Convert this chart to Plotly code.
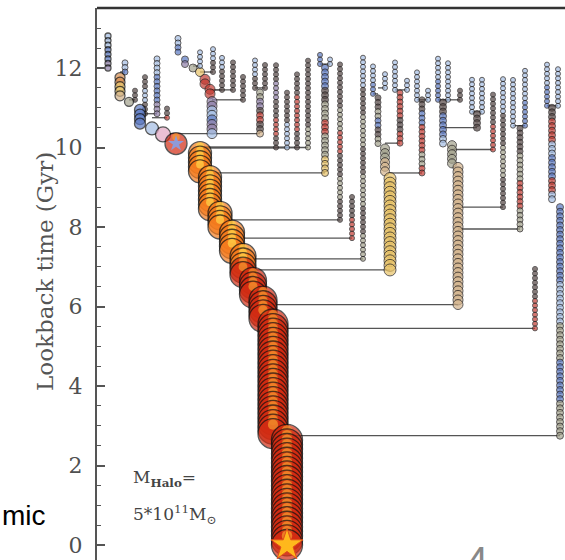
import numpy as np
import plotly.graph_objects as go

# ---------------------------------------------------------------------------
# Merger tree of a 5e11 Msun halo.  Horizontal position is only the tree
# layout column; the vertical axis is lookback time in Gyr.  Each bead is one
# simulation output, its size tracks mass and its colour tracks the galaxy.
# ---------------------------------------------------------------------------
SNAP_DT = 0.115          # spacing between simulation outputs (Gyr)

PALETTE = {
    "b": "#a3bde3", "B": "#5a78c2", "p": "#8e7ea8", "P": "#e3a6c2",
    "k": "#544644", "r": "#c23a31", "y": "#e8c266", "n": "#d2b28a",
    "g": "#a3a28c", "o": "#d88e4e", "O": "#f57b1d", "R": "#d22b12",
}
GLINT = {"O": "#ffd54a", "R": "#f59a2e"}

# Main progenitor, one row per stretch of constant layout column
MAIN_X    = [108, 120, 129, 140, 152, 163, 176, 200, 210, 220, 232, 243, 253, 263, 273, 287]
MAIN_TOP  = [12.85, 11.85, 11.15, 11.0, 10.48, 10.33, 10.1, 9.95, 9.3, 8.35, 7.9, 7.3, 6.7, 6.2, 5.6, 2.7]
MAIN_END  = [12.0, 11.3, 11.15, 10.6, 10.48, 10.33, 10.1, 9.4, 8.45, 8.0, 7.4, 6.8, 6.3, 5.7, 2.8, 0.0]
MAIN_SIZE = [6, 10, 9, 11, 13, 15, 22, 23, 23, 24, 25, 26, 27, 28, 30, 31]
MAIN_COL  = ["bbBBpp", "oyn", "g", "BB", "b", "P", "R", "O", "O", "O", "O", "OR", "R", "R", "R", "R"]

# Accreted branches: column, first output, merger time, bead size, colours,
# and the column of the halo they merge into (None = continues directly)
SIDE_X = [125, 135, 145, 157, 167,
          178, 185, 193, 200, 205, 210, 212,
          200, 213, 222, 233, 243,
          255, 265, 260,
          276, 287, 297, 308,
          320, 330, 325,
          340, 352, 363,
          373, 385, 378, 385, 390,
          395, 407, 400, 417, 428, 422,
          438, 448, 460, 443, 452, 458,
          472, 482, 477, 493, 503, 513, 525, 520,
          535,
          547, 558, 552, 560]
SIDE_TOP = [12.15, 11.5, 11.8, 12.25, 11.05,
            12.8, 12.3, 12.0, 11.9, 11.75, 11.5, 11.25,
            12.4, 12.5, 12.33, 12.2, 11.87,
            12.2, 12.13, 11.45,
            12.13, 11.4, 11.9, 12.2,
            12.4, 12.3, 12.05,
            12.1, 8.86, 12.33,
            12.13, 11.95, 11.35, 10.05, 9.3,
            12.2, 11.75, 11.45, 11.95, 11.5, 11.2,
            12.33, 12.2, 11.5, 11.15, 10.1, 9.5,
            11.8, 11.77, 10.85, 11.4, 11.77, 11.77, 12.0, 10.5,
            7.0,
            12.13, 12.05, 11.0, 8.6]
SIDE_END = [11.9, 11.2, 10.85, 10.85, 10.75,
            12.4, 12.1, 12.0, 11.9, 11.6, 11.35, 10.35,
            12.05, 11.9, 11.45, 11.45, 11.2,
            11.5, 11.5, 10.35,
            10.0, 10.0, 10.0, 10.0,
            12.1, 12.1, 9.36,
            8.18, 7.72, 7.2,
            11.35, 11.5, 10.1, 9.4, 6.92,
            11.45, 11.45, 10.11, 11.2, 11.2, 9.36,
            11.2, 11.2, 11.2, 10.1, 9.6, 6.05,
            10.9, 10.9, 10.5, 9.95, 8.5, 10.55, 10.55, 7.95,
            5.45,
            11.05, 11.05, 8.7, 2.75]
SIDE_SIZE = [6, 5, 5, 6, 5,
             6, 7, 8, 9, 10, 10, 10,
             5, 5, 5, 5, 5,
             5, 5, 7,
             5, 5, 5, 5,
             5, 5, 7,
             5, 5, 5,
             5, 5, 6, 9, 12,
             5, 5, 6, 5, 5, 6,
             5, 5, 5, 7, 9, 10,
             5, 5, 7, 5, 5, 5, 5, 6,
             5,
             5, 5, 7, 7]
SIDE_COL = ["bB", "k", "kbk", "bBBp", "kr",
            "bB", "Bp", "g", "y", "r", "rr", "pbBpb",
            "b", "bk", "bkk", "kk", "k",
            "bk", "k", "gpkrkn",
            "kpkrk", "kb", "krrk", "kkkg",
            "B", "b", "BBkggrggyy",
            "kkgrkgk", "kr", "bkgkgkg",
            "bB", "b", "kgBkg", "gn", "yyyy",
            "b", "b", "rrkr", "b", "b", "kBrrgr",
            "bB", "b", "k", "kBBb", "gg", "nnnn",
            "b", "b", "k", "kr", "bkgk", "b", "bB", "kgrg",
            "kr",
            "bB", "b", "krrbBBrb", "BBbgBg"]
SIDE_HOST = [120, 129, 140, 140, 152,
             None, None, None, None, None, None, 170,
             193, 200, 210, 210, 212,
             260, 260, 212,
             200, 200, 200, 200,
             325, 325, 205,
             220, 232, 243,
             378, 378, None, None, 243,
             400, 400, 385, 422, 422, 390,
             443, 443, 443, None, None, 263,
             477, 477, 443, 452, 458, 520, 520, 458,
             273,
             552, 552, None, 287]

# Axis geometry
Y_RANGE = [-0.377, 13.51]
X_RANGE = [97, 565]
WIDTH, HEIGHT = 565, 560
MARGIN = dict(l=97, r=0, t=8, b=0, pad=0)
PX_PER_GYR = (HEIGHT - MARGIN["t"] - MARGIN["b"]) / (Y_RANGE[1] - Y_RANGE[0])


def outputs(top, end):
    """Output times of one stretch, ordered from early (top) to late."""
    n = int(np.floor((top - end) / SNAP_DT + 1e-6)) + 1
    return (end + SNAP_DT * np.arange(n))[::-1]


def colour_codes(code, n):
    return [code[min(len(code) - 1, i * len(code) // n)] for i in range(n)]


# merger lines
lx, ly = [], []
for x, end, host in zip(SIDE_X, SIDE_END, SIDE_HOST):
    if host is None:
        continue
    lx += [host, x, None]
    ly += [end, end, None]

# side-branch beads
sx, sy, ss, sc = [], [], [], []
for x, top, end, size, code in zip(SIDE_X, SIDE_TOP, SIDE_END, SIDE_SIZE, SIDE_COL):
    ts = outputs(top, end)
    for t, c in zip(ts, colour_codes(code, len(ts))):
        sx.append(x); sy.append(t); ss.append(size); sc.append(PALETTE[c])

# main progenitor: disk followed by a glint near its upper rim, so that each
# later disk covers the lower part of the previous one
mx, my, ms, mc, mw = [], [], [], [], []
for x, top, end, size, code in zip(MAIN_X, MAIN_TOP, MAIN_END, MAIN_SIZE, MAIN_COL):
    ts = outputs(top, end)
    for t, c in zip(ts, colour_codes(code, len(ts))):
        mx.append(x); my.append(t); ms.append(size); mc.append(PALETTE[c]); mw.append(1.3)
        if c in GLINT:
            mx.append(x)
            my.append(t + 0.30 * size / PX_PER_GYR)
            ms.append(0.34 * size); mc.append(GLINT[c]); mw.append(0)

fig = go.Figure()
fig.add_trace(go.Scatter(x=lx, y=ly, mode="lines",
                         line=dict(color="#555555", width=1.3),
                         hoverinfo="skip", showlegend=False))
fig.add_trace(go.Scatter(x=sx, y=sy, mode="markers",
                         marker=dict(size=ss, color=sc,
                                     line=dict(color="#1e1a1a", width=1)),
                         showlegend=False))
fig.add_trace(go.Scatter(x=mx, y=my, mode="markers",
                         marker=dict(size=ms, color=mc,
                                     line=dict(color="#111111", width=mw)),
                         showlegend=False))
# first major merger and the present-day galaxy
fig.add_trace(go.Scatter(x=[MAIN_X[6]], y=[MAIN_END[6]], mode="markers",
                         marker=dict(symbol="star", size=12, color="#8e9ad8",
                                     line=dict(width=0)),
                         showlegend=False))
fig.add_trace(go.Scatter(x=[MAIN_X[-1]], y=[MAIN_END[-1]], mode="markers",
                         marker=dict(symbol="star", size=24, color="#ffb81c",
                                     line=dict(color="#e0501a", width=1)),
                         showlegend=False))

serif = "DejaVu Serif"
fig.update_layout(
    template="none",
    width=WIDTH, height=HEIGHT, margin=MARGIN,
    paper_bgcolor="white", plot_bgcolor="white",
    showlegend=False,
    xaxis=dict(range=X_RANGE, visible=False, showgrid=False, zeroline=False,
               automargin=False),
    yaxis=dict(range=Y_RANGE, automargin=False, showgrid=False, zeroline=False,
               tickvals=[0, 2, 4, 6, 8, 10, 12], ticks="inside", ticklen=8,
               tickwidth=1.5, tickcolor="#555555", showline=True,
               linecolor="#555555", linewidth=2, ticklabelstandoff=8,
               tickfont=dict(family=serif, size=22, color="#505050"),
               minor=dict(dtick=0.5, ticks="inside", ticklen=4, tickwidth=1.2,
                          tickcolor="#555555", showgrid=False)),
    shapes=[dict(type="line", xref="paper", yref="paper", x0=0, x1=1, y0=1, y1=1,
                 line=dict(color="#333333", width=2.5))],
    annotations=[
        dict(text="Lookback time (Gyr)", textangle=-90, xref="paper", yref="y",
             x=(30 - 97) / 468, y=6.87, showarrow=False,
             font=dict(family=serif, size=23, color="#555555")),
        dict(text="M<sub><b>Halo</b></sub>=", xref="x", yref="y", x=131, y=1.68,
             xanchor="left", showarrow=False,
             font=dict(family=serif, size=17, color="#444444")),
        dict(text="5*10<sup>11</sup>M<sub>⊙</sub>", xref="x", yref="y", x=131, y=0.78,
             xanchor="left", showarrow=False,
             font=dict(family=serif, size=17, color="#444444")),
        dict(text="mic", xref="paper", yref="paper", x=-97 / 468, y=(560 - 515) / 552,
             xanchor="left", yanchor="middle", showarrow=False,
             font=dict(family="Liberation Sans", size=28, color="#000000")),
        dict(text="4", xref="paper", yref="paper", x=(477 - 97) / 468, y=(560 - 561) / 552,
             xanchor="center", yanchor="middle", showarrow=False,
             font=dict(family="Liberation Sans", size=40, color="#888888")),
    ],
)

fig.write_html("out.html")
